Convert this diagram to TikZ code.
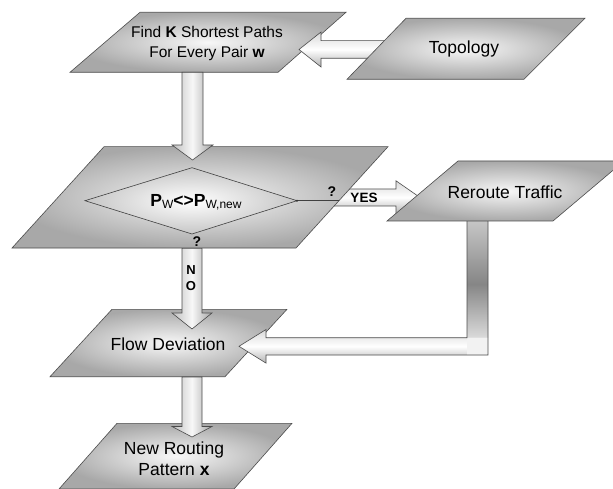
\documentclass[tikz,border=0pt]{standalone}
\usepackage{fontspec}
\setmainfont{Liberation Sans}
\usetikzlibrary{calc}

% vertical colour run of the long return shaft (bottom to top)
\pgfdeclareverticalshading{returnshaft}{100bp}{%
  color(0bp)=(gray!25); color(15bp)=(white); color(48bp)=(gray!95);
  color(80bp)=(gray!35); color(100bp)=(gray!20)}

\tikzset{
  box/.style={draw=black!70, line width=0.6pt, inner color=gray!6, outer color=gray!68},
  diam/.style={draw=black!75, line width=0.6pt, inner color=white, outer color=gray!45},
  boxtext/.style={font=\fontsize{17.5}{21}\selectfont, align=center, inner sep=0pt},
  smalltext/.style={font=\fontsize{15.5}{20}\selectfont, align=center, inner sep=0pt},
  harrow/.style={draw=black!70, line width=0.6pt, top color=gray!30, bottom color=gray!60, middle color=white},
  varrow/.style={draw=black!70, line width=0.6pt, left color=gray!50, right color=gray!72, middle color=white!94!gray},
  tag/.style={font=\bfseries\fontsize{14}{14}\selectfont, inner sep=0pt},
}

% horizontal block arrow: from, tip, half shaft, half head, head length (signed)
\newcommand\harrowto[5]{%
  \draw[harrow] let \p1=(#1), \p2=(#2) in
    (\x1,{\y1+#3}) -- ({\x2+(#5)},{\y1+#3}) -- ({\x2+(#5)},{\y1+#4}) -- (\x2,\y1)
    -- ({\x2+(#5)},{\y1-#4}) -- ({\x2+(#5)},{\y1-#3}) -- (\x1,{\y1-#3}) -- cycle;}
% vertical block arrow pointing down: from, tip, half shaft, half head, head length
\newcommand\varrowto[5]{%
  \draw[varrow] let \p1=(#1), \p2=(#2) in
    ({\x1-#3},\y1) -- ({\x1-#3},{\y2+#5}) -- ({\x1-#4},{\y2+#5}) -- (\x1,\y2)
    -- ({\x1+#4},{\y2+#5}) -- ({\x1+#3},{\y2+#5}) -- ({\x1+#3},\y1) -- cycle;}

\begin{document}
\begin{tikzpicture}[x=1pt,y=-1pt]
\useasboundingbox (0,0) rectangle (613,489);
\clip (0,0) rectangle (613,489);

% ---- Find K shortest paths
\draw[box] (140,12.3) -- (346,12.3) -- (278,72.3) -- (70,72.3) -- cycle;
\node[smalltext] (find) at (207,43) {Find \textbf{K} Shortest Paths\\For Every Pair \textbf{w}};
\coordinate (find-s) at (192.5,72.3);
\coordinate (find-e) at (299,49.5);

% ---- Topology feeds the path search
\coordinate (topo-w) at (392,49.5);
\harrowto{topo-w}{find-e}{8.8pt}{17.5pt}{22pt}
\draw[box] (406,18.3) -- (585,18.3) -- (524,79.3) -- (347,79.3) -- cycle;
\node[boxtext] (topo) at (464,49) {Topology};

% ---- decision: YES branch towards rerouting
\coordinate (dec-e) at (320,197.5);
\coordinate (rr-w) at (420,197.5);
\harrowto{dec-e}{rr-w}{8.5pt}{16.7pt}{-24pt}

\draw[box] (104,146.7) -- (388,146.7) -- (296,248) -- (12,248) -- cycle;
\coordinate (dl) at (85,200.7);
\coordinate (dr) at (297,200.7);
\coordinate (dt) at (192,167.7);
\coordinate (db) at (192,234);
\coordinate (dedge) at (339,200.7);
\draw[diam] (dl) -- (dt) -- (dr) -- (db) -- cycle;
\draw[black!75, line width=0.7pt] (dr) -- (dedge);
\fill[black!80] (dr) circle (1.1pt);
\node[font=\bfseries\fontsize{17.5}{20}\selectfont, inner sep=0pt] (dec) at (196,202)
  {P\raisebox{-2.5pt}{\mdseries\fontsize{12}{12}\selectfont W}<>P\raisebox{-2.5pt}{\mdseries\fontsize{12}{12}\selectfont W,new}};
\node[tag] (qyes) at (332,192) {?};
\node[tag] (qno) at (197,241.5) {?};

% ---- path search into the decision
\coordinate (dec-n) at (192.5,160);
\varrowto{find-s}{dec-n}{10.5pt}{20.5pt}{15pt}

% ---- flow deviation
\draw[box] (112,309.3) -- (287,309.3) -- (225,376.7) -- (50,376.7) -- cycle;
\node[boxtext] (flow) at (168,344) {Flow Deviation};

% ---- return arrow from rerouting back to flow deviation
\coordinate (rr-s) at (477.5,221);
\coordinate (flow-e) at (239,346.3);
\shade[shading=returnshaft] (467,221) rectangle (488,337.7);
\path[top color=gray!30, bottom color=gray!60, middle color=white]
  let \p1=(rr-s), \p2=(flow-e) in
  ({\x1+10.5pt},{\y2+8.6pt}) -- ({\x2+27pt},{\y2+8.6pt}) -- ({\x2+27pt},{\y2+16.8pt}) -- (\x2,\y2)
  -- ({\x2+27pt},{\y2-16.8pt}) -- ({\x2+27pt},{\y2-8.7pt}) -- ({\x1+10.5pt},{\y2-8.7pt}) -- cycle;
\fill[white!90!gray] (467,338) rectangle (487.7,354.7);
\draw[black!70, line width=0.6pt] let \p1=(rr-s), \p2=(flow-e) in
  ({\x1-10.5pt},\y1) -- ({\x1-10.5pt},{\y2+8.6pt}) -- ({\x2+27pt},{\y2+8.6pt}) -- ({\x2+27pt},{\y2+16.8pt})
  -- (\x2,\y2) -- ({\x2+27pt},{\y2-16.8pt}) -- ({\x2+27pt},{\y2-8.7pt}) -- ({\x1+10.5pt},{\y2-8.7pt})
  -- ({\x1+10.5pt},\y1);

% ---- reroute traffic
\draw[box] (458,161) -- (624,161) -- (553,221) -- (387,221) -- cycle;
\node[boxtext] (reroute) at (505,192) {Reroute Traffic};

% ---- NO branch
\coordinate (dec-s) at (192,248.3);
\coordinate (flow-n) at (192,329);
\varrowto{dec-s}{flow-n}{10pt}{20pt}{16pt}
\node[tag, font=\bfseries\fontsize{13}{13}\selectfont] (lno1) at (191,270) {N};
\node[tag, font=\bfseries\fontsize{13}{13}\selectfont] (lno2) at (191,286) {O};

% ---- new routing pattern
\draw[box] (117,423.3) -- (292,423.3) -- (234,489) -- (59,489) -- cycle;
\node[boxtext] (newpat) at (174,458.5) {New Routing\\Pattern \textbf{x}};
\coordinate (flow-s) at (192,377);
\coordinate (new-n) at (192,437);
\varrowto{flow-s}{new-n}{10pt}{20pt}{10.5pt}

% ---- YES label on its arrow
\node[tag, font=\bfseries\fontsize{13.5}{13.5}\selectfont] (lyes) at (364,198) {YES};
\end{tikzpicture}
\end{document}
